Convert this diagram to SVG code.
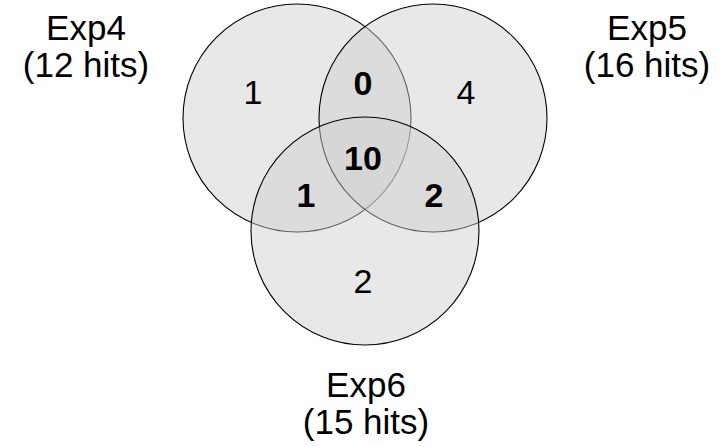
<svg xmlns="http://www.w3.org/2000/svg" width="728" height="447" viewBox="0 0 728 447">
<style>
.c{fill:rgb(207,207,207);fill-opacity:0.48;stroke:#000;stroke-width:1.1}
.lbl{font-family:"Liberation Sans",Arial,sans-serif;font-size:35px;fill:#000;text-anchor:middle}
.n{font-family:"Liberation Sans",Arial,sans-serif;font-size:34px;fill:#000;text-anchor:middle}
.b{font-weight:bold}
</style>
<rect width="728" height="447" fill="#fff"/>
<g id="exp4"><circle class="c" cx="297" cy="118" r="114"/></g>
<g id="exp5"><circle class="c" cx="433" cy="118" r="114"/></g>
<g id="exp6"><circle class="c" cx="365" cy="231" r="114"/></g>
<g id="labels">
<text class="lbl" x="86" y="40">Exp4</text>
<text class="lbl" x="86" y="77">(12 hits)</text>
<text class="lbl" x="647" y="40">Exp5</text>
<text class="lbl" x="647" y="77">(16 hits)</text>
<text class="lbl" x="366" y="397">Exp6</text>
<text class="lbl" x="366" y="434">(15 hits)</text>
</g>
<g id="counts">
<text class="n" x="253" y="104">1</text>
<text class="n b" x="363" y="95">0</text>
<text class="n" x="466" y="104">4</text>
<text class="n b" x="363" y="170">10</text>
<text class="n b" x="306" y="207">1</text>
<text class="n b" x="434" y="207">2</text>
<text class="n" x="363" y="293">2</text>
</g>
</svg>
